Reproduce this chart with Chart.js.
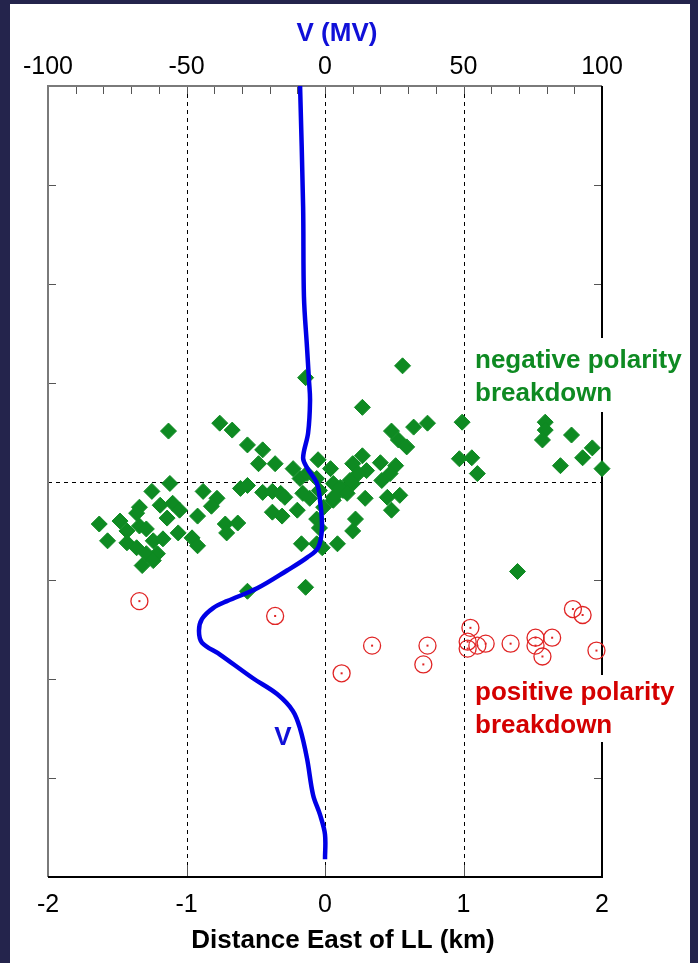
<!DOCTYPE html>
<html>
<head>
    <title>Breakdown polarity</title>
    <style>
        body {
            margin: 0;
            background-color: #24244c;
        }

        #wrap {
            position: absolute;
            left: 10px;
            top: 4px;
            width: 680px;
            height: 959px;
            background-color: #ffffff;
        }
    </style>
    <script src="https://cdn.jsdelivr.net/npm/chart.js"></script>
</head>
<body>
    <div id="wrap"><canvas id="chart" width="680" height="959"></canvas></div>

    <script>
        // negative polarity breakdown (km east of LL, height units)
        var negX = [-1.13, -0.76, -0.67, -0.56, -0.45, -0.48, -0.36, -0.05, -0.23, -0.18, 0.04, -0.06, 0.20,
            -1.12, -1.25, -0.88, -0.61, -0.56, -0.45, -0.38, -0.32, -0.29, -0.16, -0.11, 0.06, 0.13, 0.20,
            -0.78, -0.82, -1.34, -1.19, -1.10, -1.05, -1.14, -0.92, -1.36, -0.38, -0.31, -0.20, -0.01, -0.06, 0.06,
            -1.63, -1.48, -1.43, -1.34, -1.29, -1.57, -1.43, -1.36, -1.24, -1.17, -1.06, -0.96, -0.92,
            -0.72, -0.63, -0.71, -1.21, -1.29, -1.32, -1.24, -0.17, -0.06, -0.02, 0.09, 0.20, 0.22,
            -0.14, -0.56, 0.56, -0.14, 0.27, 0.74, 0.64, 0.48, 0.53, 0.59, 0.99, 1.59, 1.59, 1.57, 1.78,
            1.93, 1.86, 1.70, 2.00, 0.97, 1.06, 1.10, 0.27, 0.40, 0.51, 0.47, 0.30, 0.24, 0.41, 0.18,
            0.11, 0.06, 0.16, 0.29, 0.45, 0.54, 0.48, -0.13, -0.04, -0.04, 1.39];
        var negY = [0.51, 0.59, 0.52, 0.37, 0.32, 0.18, 0.18, 0.22, 0.13, 0.03, 0.13, 0.03, 0.18,
            -0.02, -0.10, -0.10, -0.07, -0.04, -0.11, -0.10, -0.12, -0.16, -0.12, -0.17, -0.02, -0.09, -0.02,
            -0.17, -0.25, -0.26, -0.24, -0.22, -0.29, -0.37, -0.35, -0.32, -0.31, -0.35, -0.29, -0.26, -0.38, -0.19,
            -0.43, -0.40, -0.50, -0.45, -0.48, -0.60, -0.62, -0.67, -0.60, -0.58, -0.52, -0.57, -0.65,
            -0.43, -0.42, -0.52, -0.73, -0.73, -0.85, -0.80, -0.63, -0.63, -0.67, -0.63, -0.50, -0.38,
            -1.07, -1.11, 1.17, 1.05, 0.75, 0.59, 0.55, 0.51, 0.42, 0.35, 0.60, 0.60, 0.52, 0.42, 0.47,
            0.34, 0.24, 0.16, 0.13, 0.23, 0.24, 0.08, 0.26, 0.19, 0.16, 0.08, 0.11, 0.08, 0.01, 0.01,
            -0.06, -0.16, -0.12, -0.17, -0.16, -0.14, -0.29, 0.08, -0.09, -0.47, -0.91];

        // positive polarity breakdown
        var posX = [-1.34, -0.36, 0.34, 0.12, 0.74, 0.71, 1.05, 1.03, 1.03, 1.16, 1.10, 1.34, 1.52, 1.52,
            1.64, 1.57, 1.79, 1.86, 1.96];
        var posY = [-1.21, -1.36, -1.66, -1.94, -1.66, -1.85, -1.48, -1.62, -1.69, -1.64, -1.66, -1.64, -1.58,
            -1.66, -1.58, -1.77, -1.29, -1.35, -1.71];

        // potential profile V (MV) against height
        var vProfile = [-9.0, -7.9, -7.6, -6.5, -5.8, -5.4, -6.1, -7.9, -6.5, -2.9, -1.8, -1.1, -2.5, -6.5,
            -13.7, -24.5, -35.4, -40.4, -44.4, -45.5, -44.4, -37.9, -26.0, -17.3, -11.6, -9.0, -6.5, -4.3, -1.8, 0, 0];
        var vHeight = [4.0, 2.78, 1.87, 1.36, 1.03, 0.82, 0.49, 0.24, 0.14, -0.02, -0.19, -0.47, -0.67, -0.77,
            -0.90, -1.08, -1.21, -1.28, -1.39, -1.51, -1.63, -1.75, -1.99, -2.15, -2.32, -2.50, -2.80, -3.17, -3.37, -3.57, -3.82];

        var kmGrid = [-1, 0, 1];
        var heightTicks = [-3, -2, -1, 1, 2, 3];

        var FONT = "'Liberation Sans', Arial, sans-serif";
        var GREEN = '#0e8a22';
        var RED = '#e02424';
        var BLUE = '#0000e6';

        function pairs(xs, ys) {
            return xs.map(function(x, i) { return {x: x, y: ys[i]}; });
        }

        // dashed grid, inward ticks and the box round the plot
        var framePlugin = {
            id: 'frame',
            beforeDatasetsDraw: function(chart) {
                var ctx = chart.ctx, a = chart.chartArea;
                var sx = chart.scales.x, sv = chart.scales.xV, sy = chart.scales.y;
                ctx.save();
                ctx.strokeStyle = '#000';
                ctx.lineWidth = 1;
                ctx.setLineDash([4, 4]);
                ctx.beginPath();
                kmGrid.forEach(function(v) {
                    var px = Math.round(sx.getPixelForValue(v)) + 0.5;
                    ctx.moveTo(px, a.top);
                    ctx.lineTo(px, a.bottom);
                });
                var py0 = Math.round(sy.getPixelForValue(0)) + 0.5;
                ctx.moveTo(a.left, py0);
                ctx.lineTo(a.right, py0);
                ctx.stroke();
                ctx.setLineDash([]);

                ctx.beginPath();
                ctx.strokeStyle = '#555';
                heightTicks.forEach(function(v) {
                    var py = Math.round(sy.getPixelForValue(v)) + 0.5;
                    ctx.moveTo(a.left, py);
                    ctx.lineTo(a.left + 8, py);
                    ctx.moveTo(a.right, py);
                    ctx.lineTo(a.right - 8, py);
                });
                for (var v = -90; v <= 90; v += 10) {
                    var px = Math.round(sv.getPixelForValue(v)) + 0.5;
                    ctx.moveTo(px, a.top);
                    ctx.lineTo(px, a.top + 8);
                }
                kmGrid.forEach(function(k) {
                    var px = Math.round(sx.getPixelForValue(k)) + 0.5;
                    ctx.moveTo(px, a.bottom);
                    ctx.lineTo(px, a.bottom - 12);
                });
                ctx.stroke();

                ctx.lineWidth = 2;
                ctx.strokeStyle = '#7a7a7a';
                ctx.beginPath();
                ctx.moveTo(a.left, a.bottom);
                ctx.lineTo(a.left, a.top);
                ctx.lineTo(a.right, a.top);
                ctx.stroke();
                ctx.strokeStyle = '#000';
                ctx.beginPath();
                ctx.moveTo(a.right, a.top);
                ctx.lineTo(a.right, a.bottom);
                ctx.lineTo(a.left, a.bottom);
                ctx.stroke();
                ctx.restore();
            },
            afterDatasetsDraw: function(chart) {
                var ctx = chart.ctx;
                ctx.save();
                // small dot in the middle of each open circle
                ctx.fillStyle = RED;
                chart.getDatasetMeta(2).data.forEach(function(p) {
                    ctx.fillRect(p.x - 1, p.y - 1, 2, 2);
                });

                // label boxes
                ctx.fillStyle = '#fff';
                ctx.fillRect(460, 334, 220, 74);
                ctx.fillRect(460, 671, 220, 67);

                ctx.font = 'bold 26px ' + FONT;
                ctx.textBaseline = 'alphabetic';
                ctx.textAlign = 'left';
                ctx.fillStyle = GREEN;
                ctx.fillText('negative polarity', 465, 364);
                ctx.fillText('breakdown', 465, 397);
                ctx.fillStyle = '#d40000';
                ctx.fillText('positive polarity', 465, 696);
                ctx.fillText('breakdown', 465, 729);

                ctx.textAlign = 'center';
                ctx.fillStyle = '#1010d8';
                ctx.fillText('V', 273, 741);
                ctx.textBaseline = 'middle';
                ctx.fillText('V (MV)', 327, 30);
                ctx.fillStyle = '#000';
                ctx.fillText('Distance East of LL (km)', 333, 937);
                ctx.restore();
            }
        };

        var tickFont = {family: FONT, size: 25};

        var chart = new Chart(document.getElementById('chart'), {
            type: 'scatter',
            data: {
                datasets: [{
                    label: 'V',
                    data: pairs(vProfile, vHeight),
                    xAxisID: 'xV',
                    showLine: true,
                    borderColor: BLUE,
                    borderWidth: 4.5,
                    pointRadius: 0,
                    tension: 0.35,
                    fill: false
                }, {
                    label: 'negative polarity breakdown',
                    data: pairs(negX, negY),
                    xAxisID: 'x',
                    pointStyle: 'rectRot',
                    pointRadius: 8,
                    borderWidth: 1,
                    borderColor: GREEN,
                    backgroundColor: GREEN,
                    clip: false
                }, {
                    label: 'positive polarity breakdown',
                    data: pairs(posX, posY),
                    xAxisID: 'x',
                    pointStyle: 'circle',
                    pointRadius: 8.5,
                    borderWidth: 1.3,
                    borderColor: RED,
                    backgroundColor: 'rgba(255,255,255,0)',
                    clip: false
                }]
            },
            options: {
                responsive: false,
                animation: false,
                layout: {padding: {left: 38, right: 88, top: 0, bottom: 0}},
                plugins: {
                    legend: {display: false},
                    tooltip: {enabled: false}
                },
                scales: {
                    x: {
                        type: 'linear',
                        position: 'bottom',
                        min: -2,
                        max: 2,
                        ticks: {stepSize: 1, font: tickFont, color: '#000', padding: 5, maxRotation: 0},
                        grid: {display: false},
                        border: {display: false},
                        afterFit: function(s) { s.height = 86; }
                    },
                    xV: {
                        type: 'linear',
                        position: 'top',
                        min: -100,
                        max: 100,
                        ticks: {stepSize: 50, font: tickFont, color: '#000', padding: -4, maxRotation: 0},
                        grid: {display: false},
                        border: {display: false},
                        afterFit: function(s) { s.height = 82; }
                    },
                    y: {
                        type: 'linear',
                        min: -4,
                        max: 4,
                        display: false
                    }
                }
            },
            plugins: [framePlugin]
        });
    </script>
</body>
</html>
